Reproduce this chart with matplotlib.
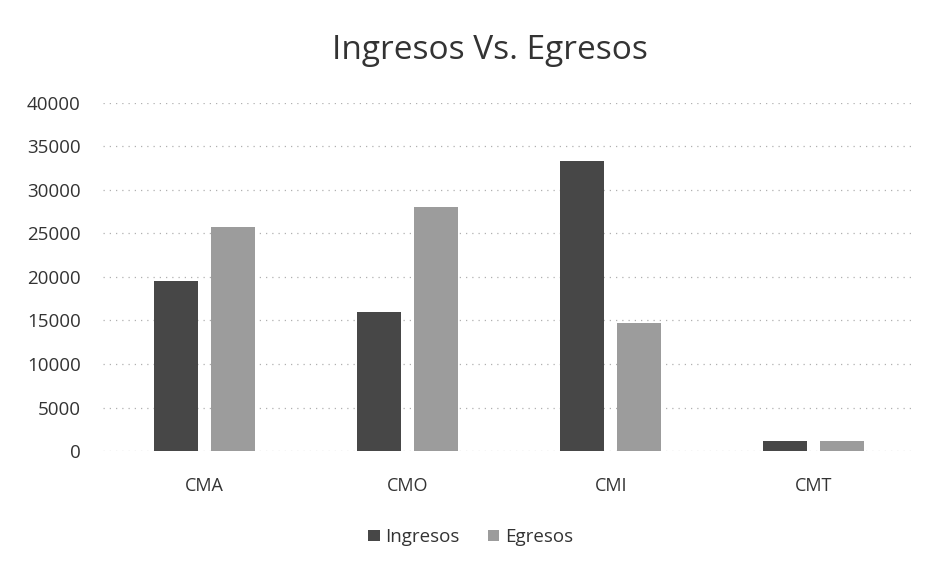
import numpy as np
import matplotlib
matplotlib.use("Agg")
import matplotlib.pyplot as plt

# Datos
categorias = ["CMA", "CMO", "CMI", "CMT"]
ingresos = [19500, 16000, 33300, 1100]
egresos = [25800, 28000, 14700, 1100]
ticks_y = [0, 5000, 10000, 15000, 20000, 25000, 30000, 35000, 40000]

plt.rcParams['font.family'] = ['Open Sans', 'DejaVu Sans']

fig = plt.figure(figsize=(9.32, 5.72), dpi=100)
ax = fig.add_axes([0.1105, 0.2115, 0.8715, 0.6085])

x = np.arange(len(categorias))
ancho = 0.215
ax.bar(x - 0.14, ingresos, ancho, color='#474747', label='Ingresos', zorder=3)
ax.bar(x + 0.14, egresos, ancho, color='#9c9c9c', label='Egresos', zorder=3)

ax.set_xlim(-0.5, len(categorias) - 0.5)
ax.set_ylim(0, 40000)
ax.set_yticks(ticks_y)
ax.set_yticklabels([str(t) for t in ticks_y], fontsize=13.5, color='#333333')
ax.set_xticks(x)
ax.set_xticklabels(categorias, fontsize=13, color='#333333')
ax.tick_params(axis='both', length=0)
ax.tick_params(axis='y', pad=16)
ax.tick_params(axis='x', pad=19)

ax.grid(axis='y', color='#b0b0b0', linestyle=(0, (1, 4)), linewidth=0.9, zorder=0)
for s in ax.spines.values():
    s.set_visible(False)

fig.suptitle('Ingresos Vs. Egresos', x=0.526, y=0.94, fontsize=24, color='#333333')

fig.legend(loc='center', bbox_to_anchor=(0.505, 0.061), ncol=2, frameon=False,
           fontsize=13.5, handlelength=0.6, handleheight=0.6, handletextpad=0.3,
           columnspacing=1.5, labelcolor='#333333')

fig.savefig('out.png', dpi=100, facecolor='white')
